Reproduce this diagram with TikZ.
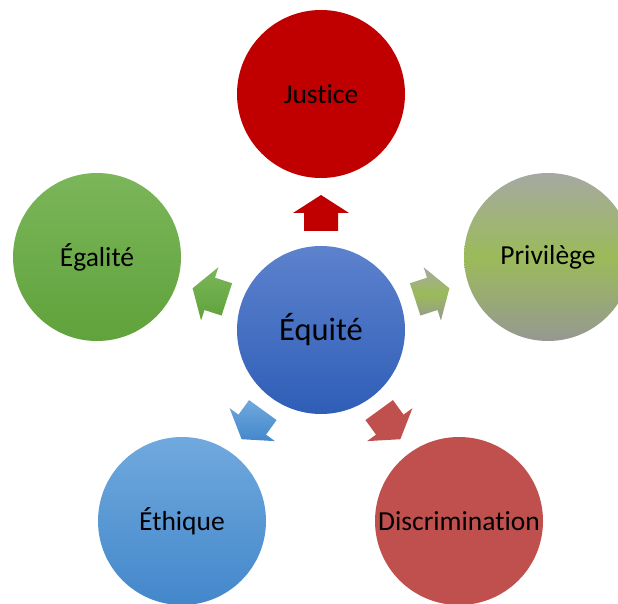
\documentclass[tikz,border=0pt]{standalone}
\usepackage{fontspec}
\setmainfont[Ligatures={NoCommon,NoRare}]{Carlito}
\definecolor{justiceRed}{HTML}{C00000}
\definecolor{discrRed}{HTML}{C0504D}
\definecolor{privGray}{HTML}{A6A9A2}
\definecolor{privGreen}{HTML}{9BBB59}
\definecolor{egaTop}{HTML}{7BB65A}
\definecolor{egaBot}{HTML}{60A23B}
\definecolor{ethTop}{HTML}{70A9DD}
\definecolor{ethBot}{HTML}{4387CB}
\definecolor{equTop}{HTML}{5D82CD}
\definecolor{equBot}{HTML}{2F5EB7}
\begin{document}
\begin{tikzpicture}[x=1pt,y=1pt]
\tikzset{
  topic/.style={circle,minimum size=168pt,inner sep=0pt,text=black,font=\fontsize{27.5}{32}\selectfont},
  justicepaint/.style={fill=justiceRed},
  privpaint/.style={top color=privGray,bottom color=privGray!90!black,middle color=privGreen},
  egapaint/.style={top color=egaTop,bottom color=egaBot},
  ethpaint/.style={top color=ethTop,bottom color=ethBot},
  discrpaint/.style={fill=discrRed},
  equpaint/.style={top color=equTop,bottom color=equBot}
}
\useasboundingbox (0,0) rectangle (618,603);
\node[topic,equpaint,font=\fontsize{32.5}{38}\selectfont] (equite) at (321,273) {Équité};
\node[topic,justicepaint] (justice) at (321,509) {Justice};
\node[topic,privpaint] (privilege) at (548,346) {Privilège};
\node[topic,egapaint] (egalite) at (97,346) {Égalité};
\node[topic,ethpaint] (ethique) at (182,82) {Éthique};
\node[topic,discrpaint] (discrimination) at (459,82) {Discrimination};
% block arrows around the centre
\foreach \a/\s in {90/justicepaint,18/privpaint,162/egapaint,234/ethpaint,306/discrpaint}
  \path[\s,shift={(equite.center)},rotate=\a]
    (99,-17) -- (117,-17) -- (117,-28) -- (135,0) -- (117,28) -- (117,17) -- (99,17) -- cycle;
\end{tikzpicture}
\end{document}
